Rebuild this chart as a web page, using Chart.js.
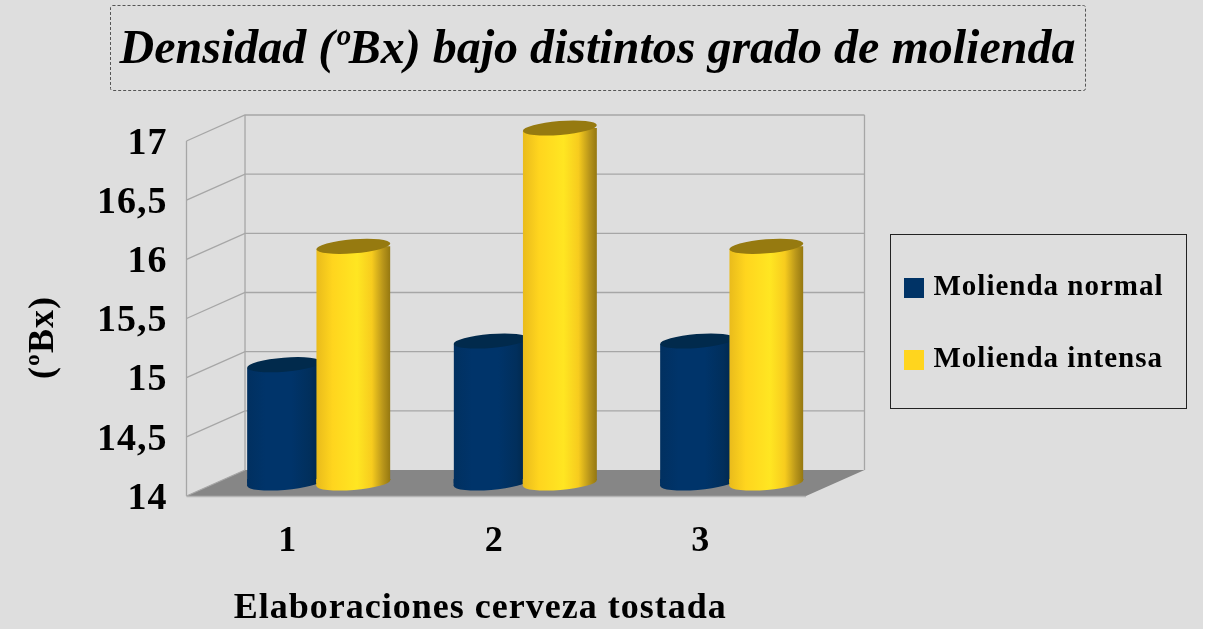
<!DOCTYPE html>
<html><head><meta charset="utf-8">
<style>html,body{margin:0;padding:0;background:#fff}canvas{display:block}</style>
<script src="https://cdn.jsdelivr.net/npm/chart.js@4"></script></head>
<body><canvas id="c" width="1214" height="629"></canvas>
<script>
const categories = ['1','2','3'];
const molidaNormal = [15,15.2,15.2];
const molidaIntensa = [16,17,16];
const seriesNames = ['Molienda normal','Molienda intensa'];
const yTickLabels = ['14','14,5','15','15,5','16','16,5','17'];
const chartTitle = 'Densidad (ºBx) bajo distintos grado de molienda';
const xTitle = 'Elaboraciones cerveza tostada';
const yTitle = '(ºBx)';

const DX = 29, DY = -13, BDX = 58.5, BDY = -26, TILT = -4.6*Math.PI/180, RY = 7;
const sideStops = [
 [[0,'#013060'],[0.25,'#00346a'],[0.6,'#00346a'],[0.85,'#012f5c'],[1,'#012648']],
 [[0,'#e9bb1c'],[0.22,'#ffd51e'],[0.55,'#ffe622'],[0.75,'#f7cc1e'],[0.9,'#b8951a'],[1,'#947710']]
];
const capColors = ['#012a4c','#967a10'];

function sideGrad(ctx,el,i){
  const l = el.x-el.width/2, g = ctx.createLinearGradient(l,0,l+el.width,0);
  sideStops[i].forEach(s=>g.addColorStop(s[0],s[1]));
  return g;
}
function shift(obj,name,c,dx,dy){
  if (obj['_sh'+name]) return;
  obj['_sh'+name] = true;
  const d = obj[name].bind(obj);
  obj[name] = function(a){ c.save(); c.translate(dx,dy); d(a); c.restore(); };
}
function drawCylinders(ch,i){
  const c = ch.ctx, meta = ch.getDatasetMeta(i), a = ch.chartArea;
  meta.data.forEach(el=>{
    const g = sideGrad(c,el,i);
    const l = el.x-el.width/2, r = el.x+el.width/2, d = el.width/2*Math.tan(-TILT);
    el.options = Object.assign({},el.options,{backgroundColor:g,borderWidth:0});
    c.fillStyle = g;
    c.beginPath(); c.ellipse(el.x,el.base,el.width/2,RY,TILT,0,Math.PI*2); c.fill();
    c.beginPath(); c.moveTo(l,el.base-d-1); c.lineTo(r,el.base-d-1); c.lineTo(r,el.base-d); c.lineTo(l,el.base+d); c.closePath(); c.fill();
  });
  c.save();
  c.beginPath();
  meta.data.forEach(el=>{
    const l = el.x-el.width/2, r = el.x+el.width/2, d = el.width/2*Math.tan(-TILT);
    c.moveTo(l,el.y+d); c.lineTo(r,el.y-d); c.lineTo(r,el.base-d); c.lineTo(l,el.base+d); c.closePath();
  });
  c.clip();
  meta.data.forEach(el=>el.draw(c,a));
  c.restore();
  meta.data.forEach(el=>{
    c.fillStyle = capColors[i];
    c.beginPath(); c.ellipse(el.x,el.y,el.width/2,RY,TILT,0,Math.PI*2); c.fill();
  });
}
const decor = {
  id:'decor',
  beforeUpdate(ch){ ch.ctx.letterSpacing = '1px'; },
  afterLayout(ch){
    const c = ch.ctx, lg = ch.legend, t = ch.titleBlock;
    lg.left = 866; lg.right = 1187; lg.top = 230.5; lg.bottom = 629;
    if (!t._ls){
      t._ls = true;
      const d = t.draw.bind(t);
      t.draw = function(a){ c.letterSpacing='0px'; d(a); c.letterSpacing='1px'; };
    }
    shift(ch.scales.x,'drawTitle',c,-16,1);
    shift(ch.scales.y,'drawTitle',c,0,19);
    shift(ch.scales.y,'drawLabels',c,0,3);
  },
  beforeDraw(ch){
    const c = ch.ctx; c.save();
    c.fillStyle = '#dedede'; c.fillRect(0,0,1203,629);
    c.strokeStyle = '#555'; c.lineWidth = 1; c.setLineDash([3,2]);
    c.beginPath(); c.roundRect(110.5,5.5,975,85,2); c.stroke();
    c.setLineDash([]);
    c.strokeStyle = '#222'; c.lineWidth = 1;
    c.strokeRect(890.5,234.5,296,174);
    c.restore();
  },
  beforeDatasetsDraw(ch){
    const c = ch.ctx, a = ch.chartArea, y = ch.scales.y;
    c.save();
    c.fillStyle = '#868686';
    c.beginPath();
    c.moveTo(a.left,a.bottom); c.lineTo(a.left+BDX,a.bottom+BDY);
    c.lineTo(a.right+BDX,a.bottom+BDY); c.lineTo(a.right,a.bottom); c.closePath(); c.fill();
    c.strokeStyle = '#a6a6a6'; c.lineWidth = 1.3;
    y.ticks.forEach(t=>{
      const p = y.getPixelForValue(t.value);
      c.beginPath();
      c.moveTo(a.left,p); c.lineTo(a.left+BDX,p+BDY);
      if (t.value>14) c.lineTo(a.right+BDX,p+BDY);
      c.stroke();
    });
    [[a.left,0],[a.left+BDX,BDY],[a.right+BDX,BDY]].forEach(s=>{
      c.beginPath(); c.moveTo(s[0],a.top+s[1]); c.lineTo(s[0],a.bottom+s[1]); c.stroke();
    });
    c.strokeStyle = '#b4b4b4';
    c.beginPath(); c.moveTo(a.left,a.bottom+.5); c.lineTo(a.right,a.bottom+.5); c.stroke();
    c.restore();
  },
  beforeDatasetDraw(){ return false; },
  afterDatasetsDraw(ch){
    const c = ch.ctx;
    c.save(); c.translate(DX,DY);
    drawCylinders(ch,0);
    drawCylinders(ch,1);
    c.restore();
  }
};
const serif = 'Liberation Serif';
new Chart(document.getElementById('c'),{
  type:'bar',
  plugins:[decor],
  data:{labels:categories,datasets:[
    {label:seriesNames[0],data:molidaNormal,base:14,backgroundColor:'#003366',categoryPercentage:.67,barPercentage:1.072},
    {label:seriesNames[1],data:molidaIntensa,base:14,backgroundColor:'#ffd51e',categoryPercentage:.67,barPercentage:1.072}
  ]},
  options:{
    responsive:false,animation:false,
    layout:{padding:{left:8,right:27,top:0,bottom:0}},
    plugins:{
      title:{display:true,text:chartTitle,color:'#000',
        font:{family:serif,size:48,weight:'bold',style:'italic',lineHeight:1.2},
        padding:{top:22,bottom:61.4}},
      legend:{position:'chartArea',align:'start',
        labels:{color:'#000',font:{family:serif,size:29,weight:'bold',lineHeight:1},
          boxWidth:10,boxHeight:10,padding:43,
          generateLabels(ch){
            return Chart.defaults.plugins.legend.labels.generateLabels(ch).map(it=>
              Object.assign(it,{lineWidth:10,strokeStyle:it.fillStyle}));
          }}},
      tooltip:{enabled:false}
    },
    scales:{
      x:{grid:{display:false},border:{display:false},
        ticks:{color:'#000',padding:16,labelOffset:-2,font:{family:serif,size:36,weight:'bold'}},
        title:{display:true,text:xTitle,color:'#000',font:{family:serif,size:36,weight:'bold'},padding:{top:0,bottom:0}},
        afterFit(s){s.height=133;}},
      y:{min:14,max:17,grid:{display:false},border:{display:false},
        ticks:{stepSize:.5,autoSkip:false,color:'#000',padding:11,font:{family:serif,size:38,weight:'bold'},
          callback:(v,i)=>yTickLabels[i]},
        title:{display:true,text:yTitle,color:'#000',font:{family:serif,size:36,weight:'bold'},padding:{top:14,bottom:0}},
        afterFit(s){s.width=178.5;}},
      y2:{position:'right',display:true,grid:{display:false},border:{display:false},ticks:{display:false},
        afterFit(s){s.width=381;}}
    }
  }
});
</script></body></html>
